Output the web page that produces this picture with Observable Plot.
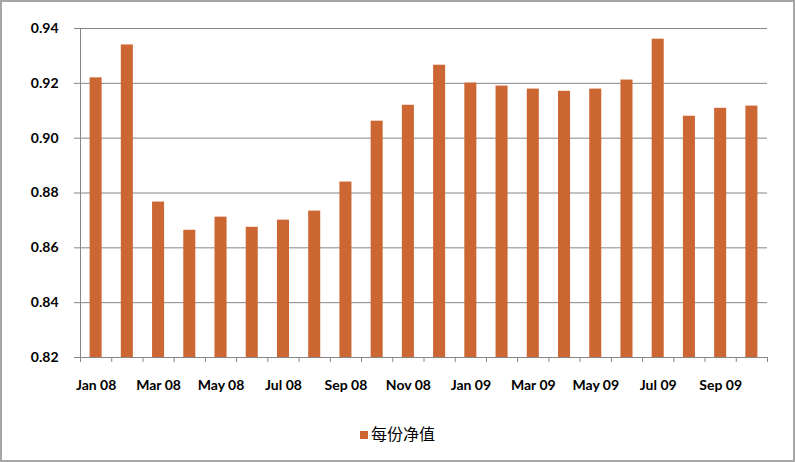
<!DOCTYPE html>
<html>
<head>
<meta charset="utf-8">
<script src="https://cdn.jsdelivr.net/npm/d3@7"></script>
<script src="https://cdn.jsdelivr.net/npm/@observablehq/plot@0.6"></script>
<style>
  html, body { margin: 0; padding: 0; background: #fff; }
  #wrap { position: relative; width: 795px; height: 462px; overflow: hidden; }
  #border { position: absolute; left: 0; top: 0; width: 795px; height: 462px; box-sizing: border-box; border: 2px solid #a6a6a6; pointer-events: none; }
  #legend { position: absolute; left: 0; width: 795px; top: 421px; text-align: center; font-family: "Noto Sans CJK SC", sans-serif; font-size: 16px; color: #000; }
  #legend .sw { display: inline-block; width: 8px; height: 8px; background: #CC6633; margin-right: 3px; vertical-align: middle; position: relative; top: -1px; }
</style>
</head>
<body>
<div id="wrap">
  <div id="chart"></div>
  <div id="legend"><span class="sw"></span><span>每份净值</span></div>
  <div id="border"></div>
</div>
<script>
const months = ["Jan 08","Feb 08","Mar 08","Apr 08","May 08","Jun 08","Jul 08","Aug 08","Sep 08","Oct 08","Nov 08","Dec 08",
                "Jan 09","Feb 09","Mar 09","Apr 09","May 09","Jun 09","Jul 09","Aug 09","Sep 09","Oct 09"];
const values = [0.922, 0.934, 0.8767, 0.8664, 0.8712, 0.8675, 0.8701, 0.8734, 0.884, 0.9062, 0.912, 0.9266,
                0.9201, 0.919, 0.9179, 0.9171, 0.9179, 0.9212, 0.9361, 0.908, 0.9109, 0.9117];
const yTicks = [0.82, 0.84, 0.86, 0.88, 0.90, 0.92, 0.94];
const labelIdx = months.map((m, i) => i).filter(i => i % 2 === 0);

const data = months.map((m, i) => ({i, month: m, value: values[i]}));
const gray = "#868686";

const chart = Plot.plot({
  width: 795,
  height: 400,
  marginLeft: 80,
  marginRight: 28,
  marginTop: 28,
  marginBottom: 43,
  style: {fontFamily: "Lato, sans-serif", fontSize: "14px", fontWeight: "bold", color: "#000", background: "transparent"},
  x: {type: "linear", domain: [0, months.length], axis: null},
  y: {domain: [0.82, 0.94], axis: null},
  marks: [
    Plot.gridY(yTicks, {stroke: gray, strokeOpacity: 1}),
    Plot.rectY(data, {x1: "i", x2: d => d.i + 1, y1: 0.82, y2: "value", insetLeft: 9.6, insetRight: 9.6, fill: "#CC6633"}),
    Plot.ruleY([0.82], {stroke: gray}),
    Plot.ruleX([0], {stroke: gray}),
    Plot.axisY({ticks: yTicks, tickFormat: ".2f", tickSize: 6, tickPadding: 16, stroke: gray, fill: "#000", label: null}),
    Plot.axisX({ticks: d3.range(months.length + 1), tickSize: 5, tickFormat: () => "", stroke: gray, label: null}),
    Plot.axisX({ticks: labelIdx.map(i => i + 0.5), tickSize: 0, tickPadding: 23, tickFormat: t => months[Math.round(t - 0.5)], fill: "#000", label: null})
  ]
});
document.getElementById("chart").appendChild(chart);
</script>
</body>
</html>
